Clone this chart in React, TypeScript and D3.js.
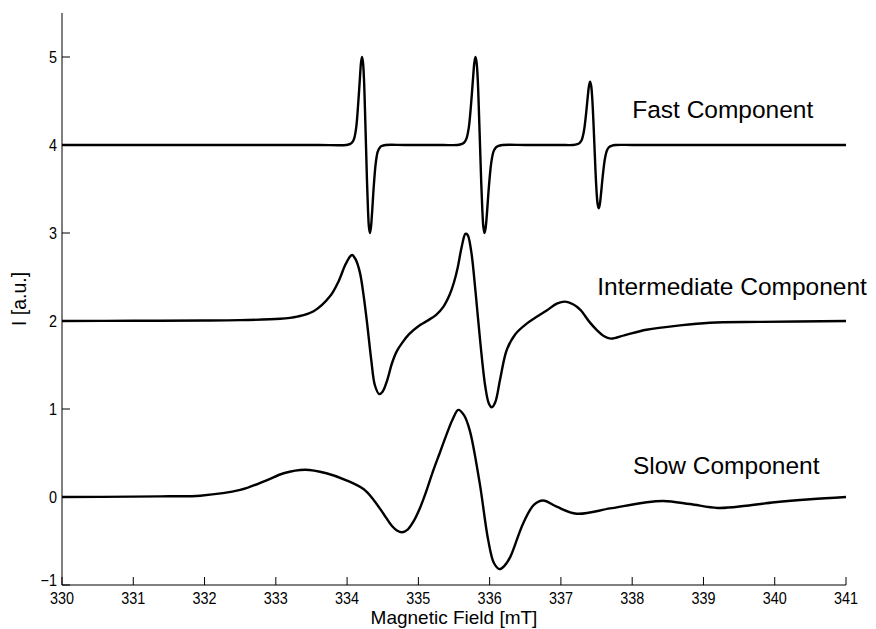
import React from "react";
import * as d3 from "d3";

// EPR spectra of three motional regimes, offset vertically for comparison.
const fastComponent: [number, number][] = [
  [330, 4.0], [331, 4.0], [332, 4.0], [333, 4.0], [333.6, 4.0], [333.99, 4.0],
  [334.045, 4.012], [334.073, 4.03], [334.1, 4.075],
  [334.128, 4.2], [334.155, 4.46], [334.183, 4.8], [334.196, 4.94], [334.21, 5.0],
  [334.224, 4.93], [334.238, 4.73], [334.251, 4.4], [334.265, 4.0], [334.279, 3.6],
  [334.293, 3.27], [334.306, 3.07], [334.32, 3.0], [334.334, 3.06], [334.348, 3.2],
  [334.375, 3.54], [334.403, 3.8], [334.43, 3.925], [334.458, 3.97], [334.485, 3.988],
  [334.54, 4.0], [334.8, 4.0], [335.1, 4.0], [335.35, 4.0],
  [335.55, 4.0], [335.613, 4.012], [335.645, 4.03], [335.676, 4.075], [335.708, 4.2],
  [335.739, 4.46], [335.771, 4.8], [335.786, 4.94], [335.802, 5.0], [335.818, 4.93],
  [335.834, 4.73], [335.849, 4.4], [335.865, 4.0], [335.881, 3.6], [335.897, 3.27],
  [335.912, 3.07], [335.928, 3.0], [335.944, 3.06], [335.96, 3.2], [335.991, 3.54],
  [336.023, 3.8], [336.054, 3.925], [336.086, 3.97], [336.117, 3.988], [336.18, 4.0],
  [336.5, 4.0], [336.8, 4.0], [337.0, 4.0],
  [337.17, 4.0], [337.23, 4.009], [337.26, 4.022], [337.29, 4.054], [337.32, 4.144],
  [337.35, 4.331], [337.38, 4.576], [337.395, 4.677], [337.41, 4.72], [337.425, 4.67],
  [337.44, 4.526], [337.455, 4.288], [337.47, 4.0], [337.485, 3.712], [337.5, 3.474],
  [337.515, 3.33], [337.53, 3.28], [337.545, 3.323], [337.56, 3.424], [337.59, 3.669],
  [337.62, 3.856], [337.65, 3.946], [337.68, 3.978], [337.71, 3.991], [337.77, 4.0],
  [338, 4.0], [338.5, 4.0], [339, 4.0], [339.5, 4.0], [340, 4.0], [340.5, 4.0], [341, 4.0],
];

const intermediateComponent: [number, number][] = [
  [330, 2.0], [331, 2.002], [332, 2.005], [332.5, 2.01], [333.06, 2.025],
  [333.3, 2.05], [333.53, 2.11], [333.76, 2.28], [333.88, 2.45], [333.97, 2.63],
  [334.03, 2.72], [334.07, 2.75], [334.12, 2.7], [334.18, 2.55], [334.23, 2.3],
  [334.28, 1.98], [334.34, 1.55], [334.39, 1.27], [334.45, 1.17], [334.5, 1.2],
  [334.56, 1.32], [334.63, 1.52], [334.7, 1.66], [334.78, 1.76], [334.87, 1.85],
  [335.0, 1.94], [335.12, 2.0], [335.25, 2.07], [335.35, 2.16], [335.44, 2.3],
  [335.5, 2.44], [335.55, 2.6], [335.61, 2.85], [335.66, 2.99],
  [335.69, 2.98], [335.74, 2.8], [335.8, 2.35], [335.87, 1.75], [335.94, 1.25],
  [335.99, 1.06], [336.03, 1.02], [336.08, 1.08], [336.15, 1.35], [336.24, 1.67],
  [336.36, 1.85], [336.52, 1.97], [336.8, 2.12], [336.95, 2.2], [337.06, 2.22],
  [337.17, 2.19], [337.27, 2.13], [337.4, 1.99], [337.5, 1.9], [337.6, 1.83],
  [337.7, 1.8], [337.9, 1.84], [338.2, 1.9], [338.67, 1.95], [339.09, 1.98],
  [339.79, 1.99], [341, 2.0],
];

const slowComponent: [number, number][] = [
  [330, 0.0], [331, 0.004], [331.5, 0.008], [331.94, 0.015], [332.5, 0.08],
  [332.87, 0.19], [333.11, 0.27], [333.41, 0.31], [333.71, 0.27], [333.99, 0.19],
  [334.23, 0.09], [334.37, -0.03], [334.51, -0.19], [334.63, -0.33], [334.7, -0.38],
  [334.77, -0.4], [334.85, -0.37], [334.93, -0.28], [335.02, -0.13], [335.1, 0.04],
  [335.2, 0.28], [335.3, 0.5], [335.4, 0.72], [335.48, 0.88], [335.56, 0.99],
  [335.64, 0.93], [335.72, 0.76], [335.86, 0.16], [335.98, -0.49], [336.06, -0.75],
  [336.14, -0.82], [336.21, -0.78], [336.29, -0.68], [336.47, -0.3], [336.62, -0.09],
  [336.75, -0.04], [336.94, -0.11], [337.22, -0.19], [337.69, -0.13], [338.16, -0.065],
  [338.44, -0.045], [338.81, -0.08], [339.2, -0.125], [339.6, -0.1], [340.0, -0.06],
  [340.5, -0.025], [341, 0.0],
];

const xTicks = [330, 331, 332, 333, 334, 335, 336, 337, 338, 339, 340, 341];
const yTicks = [-1, 0, 1, 2, 3, 4, 5];
const xDomain: [number, number] = [330, 341];
const yDomain: [number, number] = [-1, 5.5];

const componentLabels = ["Fast Component", "Intermediate Component", "Slow Component"];
const labelFields = [338.0, 337.51, 338.01];
const labelIntensities = [4.4, 2.39, 0.364];

const xTitle = "Magnetic Field [mT]";
const yTitle = "I [a.u.]";

const W = 876;
const H = 629;
const margin = { left: 62, right: 30, top: 13, bottom: 44 };
const font = "'Liberation Sans', Arial, Helvetica, sans-serif";
const tickFont = 16;
const tickSqueeze = 0.9;

export default function App() {
  const x = d3.scaleLinear().domain(xDomain).range([margin.left, W - margin.right]);
  const y = d3.scaleLinear().domain(yDomain).range([H - margin.bottom, margin.top]);
  const line = d3
    .line<[number, number]>()
    .x((d) => x(d[0]))
    .y((d) => y(d[1]))
    .curve(d3.curveCatmullRom.alpha(0.5));

  const series = [fastComponent, intermediateComponent, slowComponent];
  const x0 = margin.left;
  const yBase = H - margin.bottom;
  const tickLen = 8;

  return (
    <svg
      width={W}
      height={H}
      style={{ position: "absolute", left: 0, top: 0, background: "#fff" }}
    >
      <rect width={W} height={H} fill="#fff" />
      {series.map((s, i) => (
        <path
          key={i}
          d={line(s) || ""}
          fill="none"
          stroke="#000"
          strokeWidth={2.4}
          strokeLinejoin="round"
        />
      ))}
      {/* axes */}
      <line x1={x0} x2={x0} y1={margin.top} y2={yBase} stroke="#000" strokeWidth={1} />
      <line x1={x0} x2={W - margin.right} y1={yBase} y2={yBase} stroke="#000" strokeWidth={1} />
      {xTicks.map((t) => (
        <g key={"x" + t}>
          <line x1={x(t)} x2={x(t)} y1={yBase} y2={yBase - tickLen} stroke="#000" />
          <text
            transform={`translate(${x(t)}, ${yBase + 18.5}) scale(${tickSqueeze}, 1)`}
            textAnchor="middle"
            fontFamily={font}
            fontSize={tickFont}
            fill="#000"
          >
            {t}
          </text>
        </g>
      ))}
      {yTicks.map((t, i) => (
        <g key={"y" + t}>
          <line x1={x0} x2={x0 + tickLen} y1={y(t)} y2={y(t)} stroke="#000" />
          <text
            // the bottom label sits a little higher so it clears the x tick labels
            transform={`translate(${x0 - 5}, ${y(t) - (i === 0 ? 5 : 0)}) scale(${tickSqueeze}, 1)`}
            dy="0.35em"
            textAnchor="end"
            fontFamily={font}
            fontSize={tickFont}
            fill="#000"
          >
            {t < 0 ? "\u2212" + Math.abs(t) : t}
          </text>
        </g>
      ))}
      <text
        x={(x0 + W - margin.right) / 2}
        y={H - 5}
        textAnchor="middle"
        fontFamily={font}
        fontSize={19}
        fill="#000"
      >
        {xTitle}
      </text>
      <text
        transform={`translate(26, ${(margin.top + yBase) / 2}) rotate(-90)`}
        textAnchor="middle"
        fontFamily={font}
        fontSize={19.5}
        fill="#000"
      >
        {yTitle}
      </text>
      {componentLabels.map((lbl, i) => (
        <text
          key={lbl}
          x={x(labelFields[i])}
          y={y(labelIntensities[i])}
          dy="0.35em"
          fontFamily={font}
          fontSize={24.5}
          fill="#000"
        >
          {lbl}
        </text>
      ))}
    </svg>
  );
}
